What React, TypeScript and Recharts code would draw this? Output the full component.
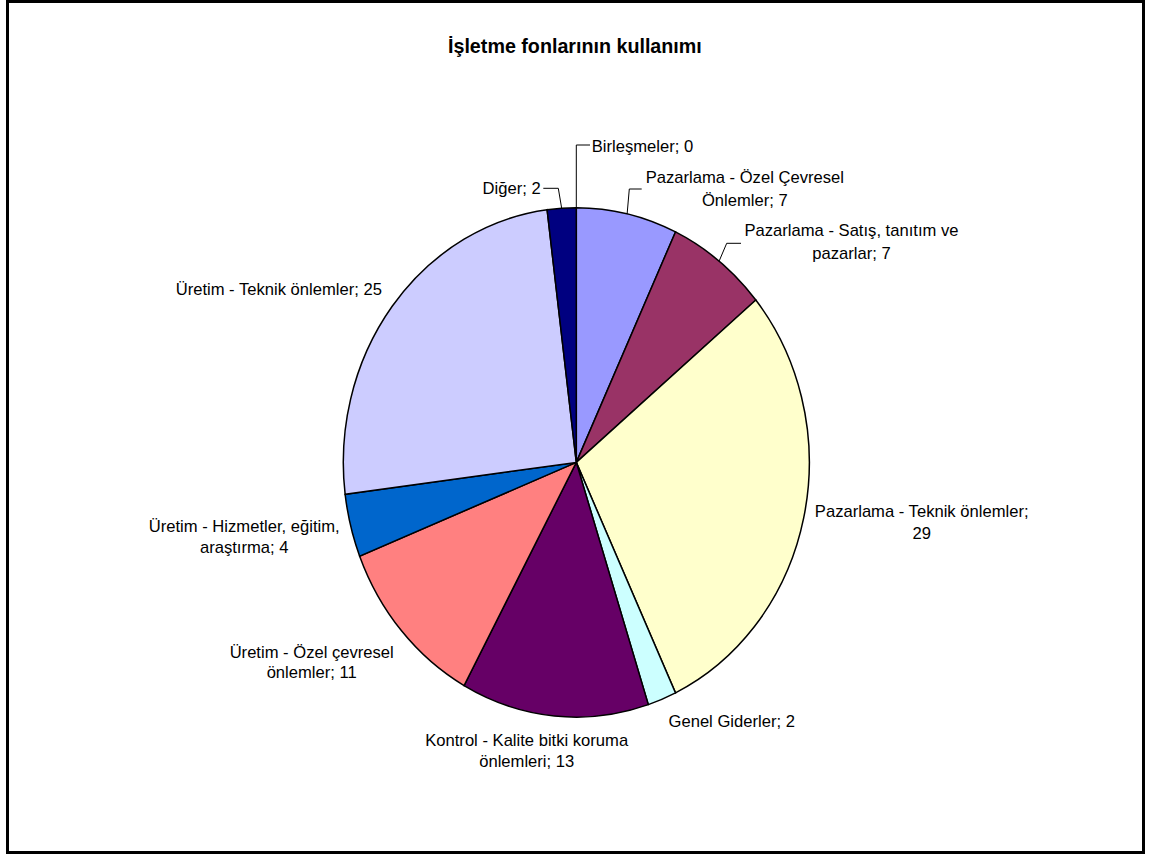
import React from 'react';
import { PieChart, Pie, Cell } from 'recharts';

const categories = [
  'Pazarlama - Özel Çevresel Önlemler',
  'Pazarlama - Satış, tanıtım ve pazarlar',
  'Pazarlama - Teknik önlemler',
  'Genel Giderler',
  'Kontrol - Kalite bitki koruma önlemleri',
  'Üretim - Özel çevresel önlemler',
  'Üretim - Hizmetler, eğitim, araştırma',
  'Üretim - Teknik önlemler',
  'Diğer',
  'Birleşmeler',
];
const values = [7, 7, 29, 2, 13, 11, 4, 25, 2, 0];
const colors = ['#9999FF', '#993366', '#FFFFCC', '#CCFFFF', '#660066', '#FF8080', '#0066CC', '#CCCCFF', '#000080', '#FF00FF'];
const title = 'İşletme fonlarının kullanımı';

const data = categories.map((name, i) => ({ name, value: values[i] }));

// label layout: words on first line, anchor, text x, baselines, leader bend/end points
type Lay = { words: number; anchor: 'start' | 'middle' | 'end'; x: number; y: number[]; leader?: number[][] };
const LAYOUT: Lay[] = [
  { words: 4, anchor: 'middle', x: 744.8, y: [182.8, 205.8], leader: [[629.3, 189], [641.7, 189]] },
  { words: 5, anchor: 'middle', x: 851.5, y: [236, 259.3], leader: [[726.7, 243.3], [741, 243.3]] },
  { words: 4, anchor: 'middle', x: 921.7, y: [516.7, 539.3] },
  { words: 99, anchor: 'middle', x: 731.7, y: [726.7] },
  { words: 5, anchor: 'middle', x: 526.7, y: [746, 767.3] },
  { words: 4, anchor: 'middle', x: 311.7, y: [657.8, 678.3] },
  { words: 4, anchor: 'middle', x: 244.2, y: [531.7, 553.3] },
  { words: 99, anchor: 'middle', x: 278.8, y: [295] },
  { words: 99, anchor: 'end', x: 540.7, y: [194], leader: [[558.3, 188.3], [543.3, 188.3]] },
  { words: 99, anchor: 'start', x: 591.7, y: [151.8], leader: [[576.3, 145], [590, 145]] },
];

const CX = 576.3;
const CY = 462.4;
const R = 233;
const K = 254.7 / 233;
const RAD = Math.PI / 180;
const FONT = '"Liberation Sans", Arial, sans-serif';

const renderLabel = (props: any) => {
  const { cx, cy, midAngle, outerRadius, index, name, value } = props;
  const lay = LAYOUT[index];
  if (!lay) return null;
  const full = `${name}; ${value}`;
  const parts = full.split(' ');
  const lines = lay.words >= parts.length ? [full] : [parts.slice(0, lay.words).join(' '), parts.slice(lay.words).join(' ')];
  const ex = cx + outerRadius * Math.cos(-midAngle * RAD);
  const ey = cy + outerRadius * K * Math.sin(-midAngle * RAD);
  return (
    <g key={`lab-${index}`}>
      {lay.leader && (
        <polyline
          points={[[ex, ey], ...lay.leader].map((p) => p.join(',')).join(' ')}
          fill="none"
          stroke="#000"
          strokeWidth={1}
        />
      )}
      <text textAnchor={lay.anchor} fontFamily={FONT} fontSize={16.6} fill="#000">
        {lines.map((l, j) => (
          <tspan key={j} x={lay.x} y={lay.y[j]}>
            {l}
          </tspan>
        ))}
      </text>
    </g>
  );
};

export default function App() {
  return (
    <div style={{ position: 'absolute', left: 0, top: 0, width: 1152, height: 854, background: '#fff' }}>
      <style>{`
        .recharts-sector { transform-origin: ${CX}px ${CY}px; transform: scaleY(${K}); vector-effect: non-scaling-stroke; }
      `}</style>
      <svg width={1152} height={854} style={{ position: 'absolute', left: 0, top: 0 }}>
        <rect x={7.5} y={1.5} width={1136} height={851} fill="#fff" stroke="#000" strokeWidth={3} />
        <text x={574.9} y={53.3} textAnchor="middle" fontFamily={FONT} fontWeight="bold" fontSize={19.7} fill="#000">
          {title}
        </text>
      </svg>
      <div style={{ position: 'absolute', left: 0, top: 0 }}>
        <PieChart width={1152} height={854} margin={{ top: 0, right: 0, bottom: 0, left: 0 }}>
          <Pie
            data={data}
            dataKey="value"
            nameKey="name"
            cx={CX}
            cy={CY}
            outerRadius={R}
            startAngle={90}
            endAngle={-270}
            stroke="#000"
            strokeWidth={1.5}
            label={renderLabel}
            labelLine={false}
            isAnimationActive={false}
          >
            {data.map((d, i) => (
              <Cell key={d.name} fill={colors[i]} />
            ))}
          </Pie>
        </PieChart>
      </div>
    </div>
  );
}
